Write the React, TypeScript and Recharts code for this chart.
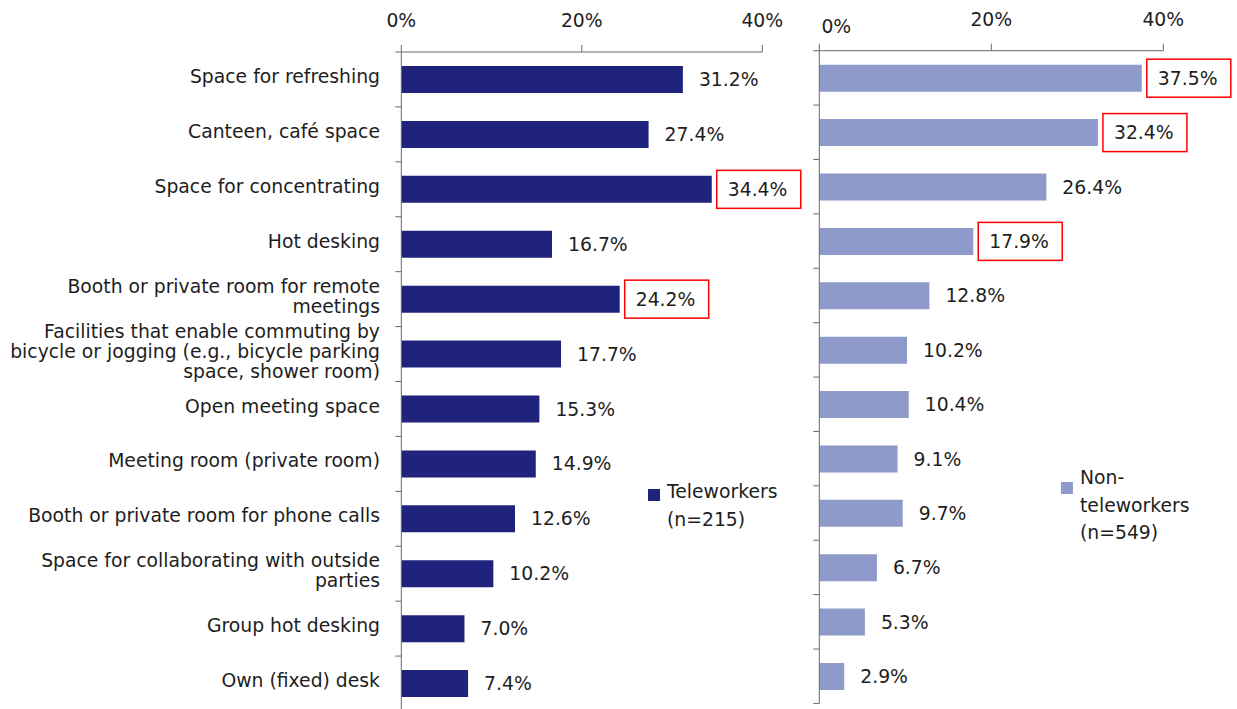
import React from "react";
import { BarChart, Bar, XAxis, YAxis, LabelList, Legend } from "recharts";

const categories = [
  "Space for refreshing",
  "Canteen, café space",
  "Space for concentrating",
  "Hot desking",
  "Booth or private room for remote\nmeetings",
  "Facilities that enable commuting by\nbicycle or jogging (e.g., bicycle parking\nspace, shower room)",
  "Open meeting space",
  "Meeting room (private room)",
  "Booth or private room for phone calls",
  "Space for collaborating with outside\nparties",
  "Group hot desking",
  "Own (fixed) desk",
];

const teleworkers = [31.2, 27.4, 34.4, 16.7, 24.2, 17.7, 15.3, 14.9, 12.6, 10.2, 7.0, 7.4];
const nonTeleworkers = [37.5, 32.4, 26.4, 17.9, 12.8, 10.2, 10.4, 9.1, 9.7, 6.7, 5.3, 2.9];

// values framed in red in the original
const teleworkersBoxed = [categories[2], categories[4]];
const nonTeleworkersBoxed = [categories[0], categories[1], categories[3]];

const xTicks = [0, 20, 40];

const FONT = "'DejaVu Sans', Verdana, sans-serif";
const TEXT = "#1e1e1e";
const AXIS = "#6a6a6a";
const FS = 18.8;

const teleData = categories.map((name, i) => ({ name, value: teleworkers[i] }));
const nonTeleData = categories.map((name, i) => ({ name, value: nonTeleworkers[i] }));

// category tick: label text (optional) + tick marks on band boundaries
function makeCategoryTick(showText: boolean, margin: number) {
  return (props: any) => {
    const { x, y, payload, index } = props;
    const half = payload?.offset ?? 27;
    const x2 = Number(x) + 6 + margin;
    const lines: string[] = String(payload.value).split("\n");
    const top = Number(y) - 3 - ((lines.length - 1) * 20) / 2;
    return (
      <g>
        <line x1={x2 - 6} x2={x2} y1={y - half} y2={y - half} stroke={AXIS} />
        {index === categories.length - 1 && (
          <line x1={x2 - 6} x2={x2} y1={y + half} y2={y + half} stroke={AXIS} />
        )}
        {showText && (
          <text textAnchor="end" fontSize={FS} fill={TEXT}>
            {lines.map((l, i) => (
              <tspan key={i} x={x} y={top + i * 20} dy="0.35em">
                {l}
              </tspan>
            ))}
          </text>
        )}
      </g>
    );
  };
}

function makePercentTick(shiftZero: boolean) {
  return (props: any) => {
    const { x, y, payload } = props;
    const zero = shiftZero && payload.value === 0;
    return (
      <text x={x + (zero ? 17 : 0)} y={y + (zero ? 6.5 : 0)} textAnchor="middle" fontSize={FS} fill={TEXT}>
        {payload.value}%
      </text>
    );
  };
}

function makeValueLabel(boxed: string[]) {
  return (props: any) => {
    const { x, y, width, height, value, index } = props;
    const end = Number(x) + Number(width);
    const cy = Number(y) + Number(height) / 2;
    const isBoxed = boxed.includes(categories[index]);
    return (
      <g>
        {isBoxed && (
          <rect x={end + 5} y={cy - 19} width={84} height={38} fill="#fff" stroke="#ff0000" strokeWidth={1.5} />
        )}
        <text x={end + 16} y={cy} dy="0.35em" fontSize={FS} fill={TEXT}>
          {Number(value).toFixed(1)}%
        </text>
      </g>
    );
  };
}

function makeLegend(textWidth: number, lineHeight: number, squareTop: number) {
  return (props: any) => {
    const item = props.payload?.[0];
    if (!item) return null;
    return (
      <div
        style={{
          position: "relative",
          paddingLeft: 19,
          width: textWidth,
          fontSize: FS,
          lineHeight: `${lineHeight}px`,
          color: TEXT,
          fontFamily: FONT,
        }}
      >
        <span
          style={{ position: "absolute", left: 0, top: squareTop, width: 12, height: 12, background: item.color }}
        />
        {item.value}
      </div>
    );
  };
}

export default function App() {
  return (
    <div
      style={{
        position: "relative",
        width: 1237,
        height: 709,
        overflow: "hidden",
        background: "#fff",
        fontFamily: FONT,
      }}
    >
      <style>{`body{margin:0}`}</style>
      <div style={{ position: "absolute", left: 0, top: 0 }}>
        <BarChart
          width={820}
          height={712}
          layout="vertical"
          data={teleData}
          margin={{ top: 0, right: 57.7, bottom: 1, left: 0 }}
        >
          <XAxis
            type="number"
            orientation="top"
            domain={[0, 40]}
            ticks={xTicks}
            height={52}
            tickSize={7}
            tickMargin={18}
            axisLine={{ stroke: AXIS }}
            tickLine={{ stroke: AXIS }}
            tick={makePercentTick(false)}
          />
          <YAxis
            type="category"
            dataKey="name"
            width={401.3}
            interval={0}
            tickLine={false}
            tickSize={6}
            tickMargin={15.3}
            axisLine={{ stroke: AXIS }}
            tick={makeCategoryTick(true, 15.3)}
          />
          <Legend
            layout="vertical"
            align="center"
            verticalAlign="middle"
            wrapperStyle={{ left: 648, top: 478, width: 150 }}
            content={makeLegend(122, 28, 11)}
          />
          <Bar dataKey="value" name="Teleworkers (n=215)" fill="#1f237b" barSize={27} isAnimationActive={false}>
            <LabelList dataKey="value" content={makeValueLabel(teleworkersBoxed)} />
          </Bar>
        </BarChart>
      </div>
      <div style={{ position: "absolute", left: 790, top: 0 }}>
        <BarChart
          width={447}
          height={704}
          layout="vertical"
          data={nonTeleData}
          margin={{ top: 0, right: 73.7, bottom: 0.6, left: 0 }}
        >
          <XAxis
            type="number"
            orientation="top"
            domain={[0, 40]}
            ticks={xTicks}
            height={50.7}
            tickSize={7}
            tickMargin={17.7}
            axisLine={{ stroke: AXIS }}
            tickLine={{ stroke: AXIS }}
            tick={makePercentTick(true)}
          />
          <YAxis
            type="category"
            dataKey="name"
            width={29.3}
            interval={0}
            tickLine={false}
            tickSize={6}
            tickMargin={15.3}
            axisLine={{ stroke: AXIS }}
            tick={makeCategoryTick(false, 15.3)}
          />
          <Legend
            layout="vertical"
            align="center"
            verticalAlign="middle"
            wrapperStyle={{ left: 271, top: 464, width: 150 }}
            content={makeLegend(117, 27.5, 18)}
          />
          <Bar dataKey="value" name="Non-teleworkers (n=549)" fill="#8e9aca" barSize={27} isAnimationActive={false}>
            <LabelList dataKey="value" content={makeValueLabel(nonTeleworkersBoxed)} />
          </Bar>
        </BarChart>
      </div>
    </div>
  );
}
